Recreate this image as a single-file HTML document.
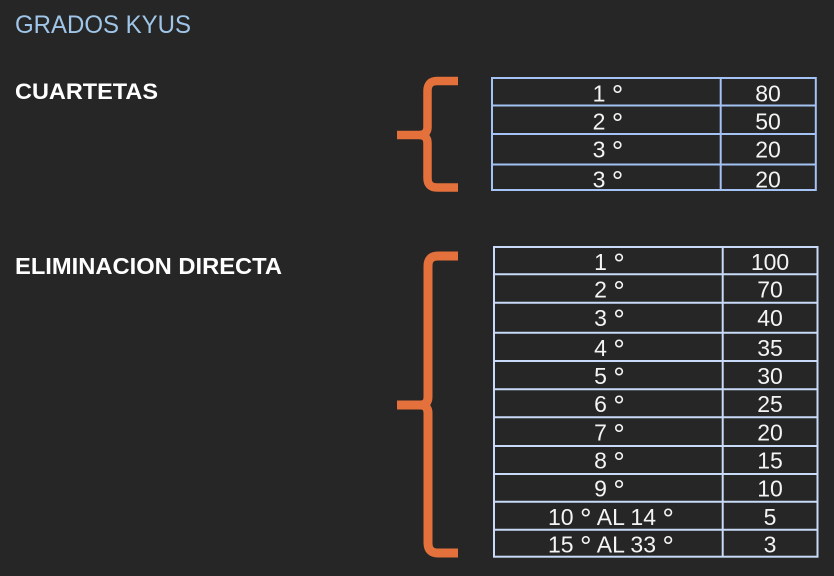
<!DOCTYPE html>
<html>
<head>
<meta charset="utf-8">
<style>
  html,body{margin:0;padding:0;background:#262626;}
  body{width:834px;height:576px;overflow:hidden;}
  svg{display:block;}
  text{font-family:"Liberation Sans",Arial,sans-serif;}
</style>
</head>
<body>
<svg width="834" height="576" viewBox="0 0 834 576" xmlns="http://www.w3.org/2000/svg">
  <rect x="0" y="0" width="834" height="576" fill="#262626"/>

  <!-- Headings -->
  <text x="15" y="33" font-size="25" fill="#9fc5e8" textLength="176" lengthAdjust="spacingAndGlyphs">GRADOS KYUS</text>
  <text x="15" y="99" font-size="22.5" font-weight="bold" fill="#ffffff" textLength="143" lengthAdjust="spacingAndGlyphs">CUARTETAS</text>
  <text x="15" y="274" font-size="23" font-weight="bold" fill="#ffffff" textLength="267" lengthAdjust="spacingAndGlyphs">ELIMINACION DIRECTA</text>

  <!-- Bracket 1 -->
  <path d="M458,81 H437 Q427.5,81 427.5,91 V127 Q427.5,135 419,135 H397 M419,135 Q427.5,135 427.5,143 V178 Q427.5,187.5 437,187.5 H458"
        fill="none" stroke="#e4703b" stroke-width="8.5"/>

  <!-- Bracket 2 -->
  <path d="M458,256 H438 Q428,256 428,266 V397 Q428,405 420,405 H397 M420,405 Q428,405 428,413 V543 Q428,553 438,553 H458"
        fill="none" stroke="#e4703b" stroke-width="9"/>

  <!-- Table 1 -->
  <g stroke="#a4c2f4" stroke-width="2" fill="none">
    <rect x="492" y="78" width="323.8" height="112"/>
    <line x1="720.7" y1="78" x2="720.7" y2="190"/>
    <line x1="492" y1="105.5" x2="815.8" y2="105.5"/>
    <line x1="492" y1="134" x2="815.8" y2="134"/>
    <line x1="492" y1="164.5" x2="815.8" y2="164.5"/>
  </g>
  <g fill="#f4f4f4" font-size="23" text-anchor="middle">
    <text x="608" y="101.5">1 <tspan font-size="29" dy="3.5">°</tspan></text><text x="768" y="101.5">80</text>
    <text x="608" y="129.3">2 <tspan font-size="29" dy="3.5">°</tspan></text><text x="768" y="129.3">50</text>
    <text x="608" y="157.3">3 <tspan font-size="29" dy="3.5">°</tspan></text><text x="768" y="157.3">20</text>
    <text x="608" y="187.3">3 <tspan font-size="29" dy="3.5">°</tspan></text><text x="768" y="187.3">20</text>
  </g>

  <!-- Table 2 -->
  <g stroke="#c9daf8" stroke-width="2" fill="none">
    <rect x="494" y="247" width="323.5" height="309.7"/>
    <line x1="722.7" y1="247" x2="722.7" y2="556.7"/>
    <line x1="494" y1="274.3" x2="817.5" y2="274.3"/>
    <line x1="494" y1="302.7" x2="817.5" y2="302.7"/>
    <line x1="494" y1="332.7" x2="817.5" y2="332.7"/>
    <line x1="494" y1="361" x2="817.5" y2="361"/>
    <line x1="494" y1="389.3" x2="817.5" y2="389.3"/>
    <line x1="494" y1="417.3" x2="817.5" y2="417.3"/>
    <line x1="494" y1="446" x2="817.5" y2="446"/>
    <line x1="494" y1="474" x2="817.5" y2="474"/>
    <line x1="494" y1="501.7" x2="817.5" y2="501.7"/>
    <line x1="494" y1="529.7" x2="817.5" y2="529.7"/>
  </g>
  <g fill="#f4f4f4" font-size="23" text-anchor="middle">
    <text x="609.5" y="270">1 <tspan font-size="29" dy="3.5">°</tspan></text><text x="770" y="270">100</text>
    <text x="609.5" y="297.7">2 <tspan font-size="29" dy="3.5">°</tspan></text><text x="770" y="297.7">70</text>
    <text x="609.5" y="326">3 <tspan font-size="29" dy="3.5">°</tspan></text><text x="770" y="326">40</text>
    <text x="609.5" y="356">4 <tspan font-size="29" dy="3.5">°</tspan></text><text x="770" y="356">35</text>
    <text x="609.5" y="384">5 <tspan font-size="29" dy="3.5">°</tspan></text><text x="770" y="384">30</text>
    <text x="609.5" y="412">6 <tspan font-size="29" dy="3.5">°</tspan></text><text x="770" y="412">25</text>
    <text x="609.5" y="440.7">7 <tspan font-size="29" dy="3.5">°</tspan></text><text x="770" y="440.7">20</text>
    <text x="609.5" y="468.7">8 <tspan font-size="29" dy="3.5">°</tspan></text><text x="770" y="468.7">15</text>
    <text x="609.5" y="496.7">9 <tspan font-size="29" dy="3.5">°</tspan></text><text x="770" y="496.7">10</text>
    <text x="611" y="525">10 <tspan font-size="29" dy="3.5">°</tspan><tspan dy="-3.5"> AL 14 </tspan><tspan font-size="29" dy="3.5">°</tspan></text><text x="770" y="525">5</text>
    <text x="611" y="552.3">15 <tspan font-size="29" dy="3.5">°</tspan><tspan dy="-3.5"> AL 33 </tspan><tspan font-size="29" dy="3.5">°</tspan></text><text x="770" y="552.3">3</text>
  </g>
</svg>
</body>
</html>
